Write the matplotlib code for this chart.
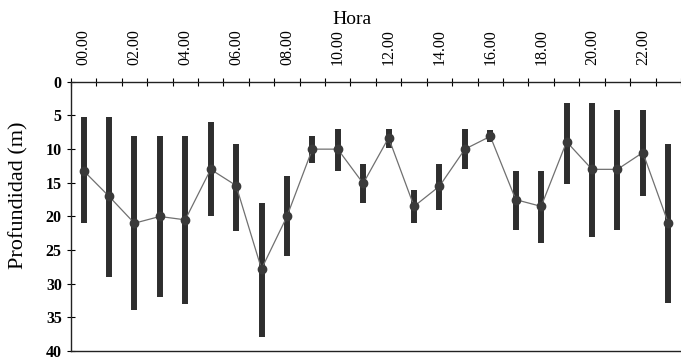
import matplotlib
matplotlib.use('Agg')
import matplotlib.pyplot as plt
import numpy as np

plt.rcParams['font.family'] = ['Liberation Serif', 'DejaVu Serif']

hours = list(range(24))
hour_labels = ['00.00', '02.00', '04.00', '06.00', '08.00', '10.00',
               '12.00', '14.00', '16.00', '18.00', '20.00', '22.00']
prof_min = [5.2, 5.2, 8.0, 8.0, 8.0, 6.0, 9.2, 18.0, 14.0, 8.0, 7.0, 12.2,
            7.0, 16.1, 12.2, 7.0, 7.2, 13.2, 13.2, 3.2, 3.2, 4.2, 4.2, 9.2]
prof_max = [21.0, 29.0, 33.9, 32.0, 33.0, 20.0, 22.2, 37.9, 25.9, 12.0, 13.2, 18.0,
            9.9, 21.0, 19.0, 13.0, 8.9, 22.0, 24.0, 15.2, 23.0, 22.0, 16.9, 32.9]
prof_media = [13.2, 17.0, 21.0, 20.0, 20.5, 13.0, 15.4, 27.8, 20.0, 10.0, 10.0, 15.1,
              8.3, 18.5, 15.5, 10.0, 8.1, 17.5, 18.5, 8.9, 13.0, 13.0, 10.5, 21.0]

fig = plt.figure(figsize=(6.81, 3.62), dpi=100)
ax = fig.add_axes([0.104, 0.03, 0.896, 0.744])

# barras de rango
ax.vlines(hours, prof_min, prof_max, color='#2e2e2e', linewidth=4.3)
# media
ax.plot(hours, prof_media, color='#707070', linewidth=0.9, marker='o',
        markersize=6, markerfacecolor='#3a3a3a', markeredgecolor='#3a3a3a')

ax.set_xlim(-0.5, 23.5)
ax.set_ylim(40, 0)

ax.xaxis.tick_top()
ax.set_xticks(hours[::2])
ax.set_xticklabels(hour_labels, rotation=90, fontsize=11.5)
ax.set_xticks(np.arange(-0.5, 24, 1), minor=True)
ax.tick_params(axis='x', which='major', length=0, pad=12)
ax.tick_params(axis='x', which='minor', direction='inout', length=6, width=0.8, top=True, bottom=False)
fig.text(352 / 681, 1 - 19 / 362, 'Hora', fontsize=14, ha='center', va='center')

ax.set_yticks(range(0, 41, 5))
ax.tick_params(axis='y', direction='inout', length=6, width=0.8, labelsize=11.5)
for t in ax.get_yticklabels():
    t.set_fontweight('bold')
ax.set_ylabel('Profundidad (m)', fontsize=16)
ax.yaxis.set_label_coords(-0.07, 0.58)

ax.spines['right'].set_visible(False)
for s in ['top', 'left', 'bottom']:
    ax.spines[s].set_linewidth(1.0)
    ax.spines[s].set_color('#222222')

fig.savefig('out.png', dpi=100)
